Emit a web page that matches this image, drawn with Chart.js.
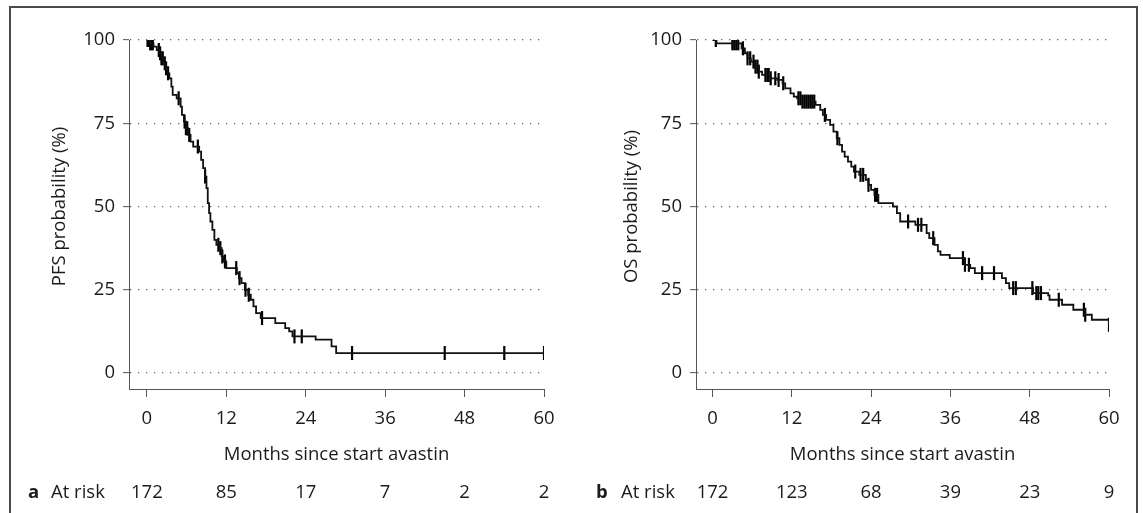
<!DOCTYPE html>
<html>
<head>
<meta charset="utf-8">
<script src="https://cdn.jsdelivr.net/npm/chart.js@4/dist/chart.umd.min.js"></script>
<style>
  body { margin: 0; background: #fff; }
  #frame { position: absolute; left: 9px; top: 6px; width: 1129px; height: 560px; border: 2px solid #4a4a4a; box-sizing: border-box; }
  .panel { position: absolute; top: 0; height: 513px; }
</style>
</head>
<body>
<div id="frame"></div>
<div class="panel" style="left:0;width:571px"><canvas id="pfs"></canvas></div>
<div class="panel" style="left:571px;width:572px"><canvas id="os"></canvas></div>
<script>
// axis ticks
let monthTicks = [0, 12, 24, 36, 48, 60];
let probTicks = [0, 25, 50, 75, 100];

// panel a: progression free survival (step curve, months / %)
let pfsTime = [0, 0.5, 1.0, 1.5, 1.9, 2.2, 2.5, 2.8, 3.1, 3.4, 3.7, 3.9, 4.5, 5.1, 5.3, 5.6, 5.9, 6.2, 6.6, 7.0, 7.9, 8.2, 8.5, 8.8, 9.0, 9.2, 9.4, 9.6, 9.9, 10.2, 10.5, 11.0, 11.3, 11.6, 12.0, 13.6, 13.9, 14.3, 14.8, 15.3, 15.7, 16.1, 16.5, 17.2, 19.4, 20.9, 21.5, 22.0, 25.5, 27.9, 28.6, 60];
let pfsSurv = [100, 99, 98, 97, 96, 94.5, 93, 91.5, 90, 88.5, 86, 83.5, 82.5, 80, 77.5, 75.5, 73.5, 71.5, 69.5, 68, 66.5, 64, 61.5, 59, 55.5, 51, 48, 45.5, 43, 40, 38.5, 37.5, 35, 33.5, 31.5, 30, 28.5, 27, 25, 23.5, 22, 20, 18, 16.5, 15, 13.5, 12.5, 11, 10, 8, 6, 6];
let pfsCensor = [0.1, 0.3, 0.5, 0.7, 0.9, 1.8, 2.0, 2.2, 2.4, 2.7, 2.9, 3.2, 4.8, 5.7, 5.9, 6.1, 6.4, 7.7, 8.8, 10.8, 11.1, 11.4, 11.8, 13.5, 14.0, 14.9, 15.4, 17.4, 22.3, 23.4, 31, 45, 54, 60];
let pfsAtRisk = [172, 85, 17, 7, 2, 2];

// panel b: overall survival
let osTime = [0, 0.6, 4.4, 4.9, 5.3, 5.8, 6.4, 7.0, 7.5, 8.8, 9.8, 10.6, 11.0, 11.8, 12.3, 12.8, 13.6, 15.6, 16.3, 16.7, 17.2, 17.8, 18.3, 18.8, 19.2, 19.6, 20.0, 20.5, 21.0, 21.4, 22.2, 23.2, 23.6, 24.0, 24.5, 25.1, 27.3, 27.9, 28.4, 30.7, 32.4, 32.8, 33.6, 34.1, 34.5, 35.9, 38.2, 39.0, 39.7, 43.8, 44.4, 44.9, 48.5, 50.8, 51.0, 52.9, 54.6, 56.4, 57.4, 60];
let osSurv = [100, 99, 97.5, 96, 94.5, 93.5, 92, 90.5, 89.5, 88.5, 88, 87, 85.5, 84, 83, 82.5, 81.5, 80.5, 79, 77.5, 76, 74.5, 72.5, 70.5, 68.5, 66.5, 65, 63.5, 62, 60.5, 59.5, 58, 56.5, 55, 53.5, 51, 50, 48, 45.5, 44.5, 42, 40.5, 38.5, 36.5, 35.5, 34.5, 32.5, 31.5, 30, 28.5, 27, 25.5, 24, 23.3, 22, 20.5, 19, 17.5, 16, 14.5];
let osCensor = [0.5, 3.0, 3.3, 3.6, 3.9, 4.6, 5.3, 5.7, 6.2, 6.5, 6.8, 7.0, 8.0, 8.3, 8.5, 8.8, 9.5, 10.0, 10.7, 13.0, 13.3, 13.6, 13.9, 14.2, 14.5, 14.8, 15.1, 15.4, 17.0, 18.9, 21.6, 22.4, 22.8, 23.6, 24.6, 24.9, 29.6, 31.1, 31.6, 33.4, 37.9, 38.2, 38.8, 40.8, 42.6, 45.5, 45.9, 48.4, 49.0, 49.3, 49.7, 52.4, 56.2, 56.4, 60];
let osAtRisk = [172, 123, 68, 39, 23, 9];

const FONT = 'Open Sans';
const TXT = '#1b1b1b';
const AXIS = '#555';

// value of the step curve at time t (used to put censor ticks on the line)
function survAt(times, surv, t) {
    let s = surv[0];
    for (let i = 0; i < times.length; i++) {
        if (times[i] <= t) s = surv[i];
    }
    return s;
}

// y title (centred on 0..100) and the at-risk row under the x axis
const atRiskPlugin = {
    id: 'atRisk',
    afterDraw(chart, args, opts) {
        const ctx = chart.ctx;
        const xs = chart.scales.x;
        const ys = chart.scales.y;
        ctx.save();
        ctx.fillStyle = TXT;
        ctx.textBaseline = 'middle';

        ctx.save();
        ctx.font = '18.5px "' + FONT + '"';
        ctx.textAlign = 'center';
        ctx.translate(opts.titleX, (ys.getPixelForValue(0) + ys.getPixelForValue(100)) / 2);
        ctx.rotate(-Math.PI / 2);
        ctx.fillText(opts.yTitle, 0, 0);
        ctx.restore();

        ctx.font = 'bold 18.5px "' + FONT + '"';
        ctx.textAlign = 'left';
        ctx.fillText(opts.letter, opts.letterX, opts.y);
        ctx.font = '18.5px "' + FONT + '"';
        ctx.fillText('At risk', opts.labelX, opts.y);
        ctx.textAlign = 'center';
        for (let i = 0; i < monthTicks.length; i++) {
            ctx.fillText(String(opts.counts[i]), xs.getPixelForValue(monthTicks[i]), opts.y);
        }
        ctx.restore();
    }
};

function makePanel(id, times, surv, censor, atRisk, yTitle, letter, axisW, xMin, padRight, letterX, labelX, titleX) {
    const curve = times.map((t, i) => ({ x: t, y: surv[i] }));
    const marks = censor.map(t => ({ x: t, y: survAt(times, surv, t) }));
    const font = { family: FONT, size: 18.5 };

    return new Chart(document.getElementById(id), {
        type: 'scatter',
        data: {
            datasets: [
                {
                    data: curve,
                    showLine: true,
                    stepped: 'before',
                    borderColor: '#111',
                    borderWidth: 1.8,
                    pointRadius: 0
                },
                {
                    data: marks,
                    showLine: false,
                    pointStyle: 'line',
                    rotation: 90,
                    pointRadius: 7,
                    borderColor: '#000',
                    borderWidth: 2.2,
                    backgroundColor: '#000'
                }
            ]
        },
        options: {
            responsive: true,
            maintainAspectRatio: false,
            animation: false,
            events: [],
            layout: { padding: { left: 0, top: 40, right: padRight, bottom: 0 } },
            plugins: {
                legend: { display: false },
                tooltip: { enabled: false },
                atRisk: { letter: letter, letterX: letterX, labelX: labelX, y: 493, counts: atRisk, yTitle: yTitle, titleX: titleX }
            },
            scales: {
                x: {
                    type: 'linear',
                    min: xMin,
                    max: 60,
                    afterBuildTicks: s => { s.ticks = monthTicks.map(v => ({ value: v })); },
                    afterFit: s => { s.height = 124; },
                    grid: { drawOnChartArea: false, drawTicks: true, tickLength: 8, tickColor: AXIS, tickWidth: 1 },
                    border: { display: true, color: AXIS, width: 1 },
                    ticks: { color: TXT, font: font, padding: 11, maxRotation: 0, autoSkip: false },
                    title: { display: true, text: 'Months since start avastin', color: TXT, font: font, padding: { top: 0, bottom: 47 } }
                },
                y: {
                    min: -4.8,
                    max: 100,
                    afterBuildTicks: s => { s.ticks = probTicks.map(v => ({ value: v })); },
                    afterFit: s => { s.width = axisW; },
                    grid: { color: '#666', lineWidth: 1.3, tickBorderDash: [], tickLength: 6, tickColor: AXIS, tickWidth: 1 },
                    border: { display: true, color: AXIS, width: 1, dash: [1.3, 6.7] },
                    ticks: { color: TXT, font: font, padding: 8 }
                }
            }
        },
        plugins: [atRiskPlugin]
    });
}

makePanel('pfs', pfsTime, pfsSurv, pfsCensor, pfsAtRisk, 'PFS probability (%)', 'a', 129, -2.7, 27, 28, 51, 60);
makePanel('os', osTime, osSurv, osCensor, osAtRisk, 'OS probability (%)', 'b', 125, -2.5, 34, 25, 50, 61);
</script>
</body>
</html>
